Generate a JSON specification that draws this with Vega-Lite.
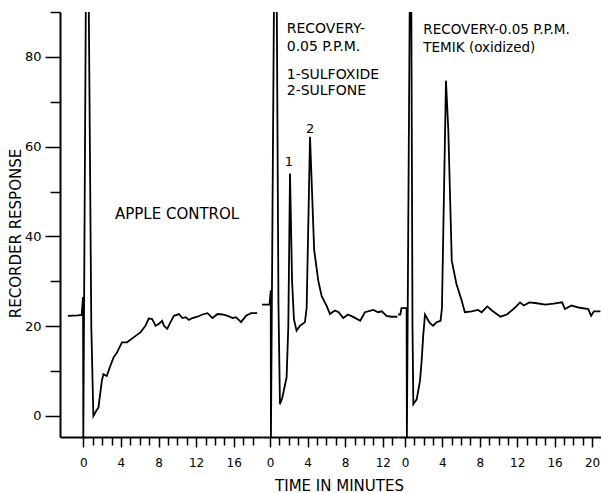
{
  "$schema": "https://vega.github.io/schema/vega-lite/v6.json",
  "padding": {"left": 8, "top": 11, "right": 0, "bottom": 0},
  "background": "white",
  "spacing": 0,
  "bounds": "flush",
  "config": {
    "view": {"stroke": null},
    "axis": {"domainColor": "#000000", "domainWidth": 2, "tickColor": "#000000", "tickWidth": 1.5, "labelColor": "#000000", "labelFont": "DejaVu Sans", "labelFontSize": 12, "titleColor": "#000000", "titleFont": "DejaVu Sans", "titleFontWeight": "normal", "grid": false},
    "line": {"color": "black", "strokeWidth": 1.8},
    "text": {"font": "DejaVu Sans", "color": "black", "fontSize": 13.5, "align": "left", "baseline": "middle"}
  },
  "datasets": {
    "control": [
      {"t": -1.64, "r": 22.3}, {"t": -0.6, "r": 22.4}, {"t": -0.17, "r": 22.5}, {"t": -0.03, "r": 26.5},
      {"t": 0.0, "r": -4.7}, {"t": 0.29, "r": 100}, {"t": 0.55, "r": 100}, {"t": 0.85, "r": 20}, {"t": 1.07, "r": 0},
      {"t": 1.4, "r": 1.2}, {"t": 1.61, "r": 1.9}, {"t": 1.97, "r": 7.8}, {"t": 2.14, "r": 9.3}, {"t": 2.5, "r": 8.9},
      {"t": 2.85, "r": 11}, {"t": 3.21, "r": 13}, {"t": 3.58, "r": 14.1}, {"t": 4.11, "r": 16.4}, {"t": 4.65, "r": 16.4},
      {"t": 5.35, "r": 17.5}, {"t": 6.07, "r": 18.6}, {"t": 6.61, "r": 20.1}, {"t": 6.96, "r": 21.7}, {"t": 7.32, "r": 21.6},
      {"t": 7.68, "r": 20.1}, {"t": 8.03, "r": 20.5}, {"t": 8.39, "r": 21.2}, {"t": 8.57, "r": 20.1}, {"t": 8.93, "r": 19.4},
      {"t": 9.28, "r": 20.9}, {"t": 9.64, "r": 22.3}, {"t": 10.17, "r": 22.7}, {"t": 10.54, "r": 21.8}, {"t": 10.89, "r": 22},
      {"t": 11.24, "r": 21.4}, {"t": 11.61, "r": 21.8}, {"t": 12.14, "r": 22.1}, {"t": 12.68, "r": 22.6}, {"t": 13.21, "r": 22.9},
      {"t": 13.75, "r": 21.8}, {"t": 14.28, "r": 22.7}, {"t": 14.82, "r": 22.6}, {"t": 15.35, "r": 22.3}, {"t": 15.89, "r": 21.8},
      {"t": 16.24, "r": 22}, {"t": 16.78, "r": 20.9}, {"t": 17.31, "r": 22.3}, {"t": 17.85, "r": 22.9}, {"t": 18.49, "r": 22.9}
    ],
    "recovery": [
      {"t": -0.85, "r": 24.8}, {"t": -0.05, "r": 24.8}, {"t": 0.08, "r": 28}, {"t": 0.1, "r": -4.7},
      {"t": 0.45, "r": 100}, {"t": 0.7, "r": 100}, {"t": 0.9, "r": 25}, {"t": 1.06, "r": 2.6}, {"t": 1.3, "r": 4},
      {"t": 1.77, "r": 8.6}, {"t": 1.95, "r": 20}, {"t": 2.13, "r": 54}, {"t": 2.35, "r": 30}, {"t": 2.55, "r": 21.5},
      {"t": 2.83, "r": 19}, {"t": 3.2, "r": 20.1}, {"t": 3.72, "r": 20.9}, {"t": 3.9, "r": 24}, {"t": 4.26, "r": 62.2},
      {"t": 4.7, "r": 37}, {"t": 5.14, "r": 30.1}, {"t": 5.5, "r": 26.7}, {"t": 6.03, "r": 24.5}, {"t": 6.38, "r": 22.7},
      {"t": 6.9, "r": 23.5}, {"t": 7.3, "r": 23.1}, {"t": 7.8, "r": 21.8}, {"t": 8.3, "r": 22.6}, {"t": 8.9, "r": 22},
      {"t": 9.6, "r": 21.2}, {"t": 10.1, "r": 23.1}, {"t": 11.0, "r": 23.6}, {"t": 11.5, "r": 23.1}, {"t": 11.9, "r": 23.3},
      {"t": 12.4, "r": 22.3}, {"t": 12.9, "r": 22.1}, {"t": 13.55, "r": 22.1}
    ],
    "temik": [
      {"t": -0.74, "r": 22.6}, {"t": -0.5, "r": 22.6}, {"t": -0.38, "r": 24.0}, {"t": 0.0, "r": 24.0}, {"t": 0.17, "r": 24.0},
      {"t": 0.2, "r": -4.7}, {"t": 0.53, "r": 100}, {"t": 0.66, "r": 100}, {"t": 0.8, "r": 20}, {"t": 0.89, "r": 2.6},
      {"t": 1.25, "r": 3.7}, {"t": 1.6, "r": 7.8}, {"t": 1.78, "r": 12.3}, {"t": 1.95, "r": 18}, {"t": 2.14, "r": 22.6},
      {"t": 2.5, "r": 21.2}, {"t": 2.7, "r": 20.6}, {"t": 3.0, "r": 20.1}, {"t": 3.4, "r": 20.9}, {"t": 3.8, "r": 21.2},
      {"t": 3.95, "r": 24}, {"t": 4.38, "r": 74.7}, {"t": 4.63, "r": 63.7}, {"t": 5.0, "r": 34.6}, {"t": 5.5, "r": 29.4},
      {"t": 6.06, "r": 25.7}, {"t": 6.4, "r": 23.1}, {"t": 7.13, "r": 23.3}, {"t": 7.8, "r": 23.6}, {"t": 8.2, "r": 23.1},
      {"t": 8.8, "r": 24.4}, {"t": 9.3, "r": 23.5}, {"t": 10.2, "r": 22.1}, {"t": 10.9, "r": 22.6}, {"t": 11.8, "r": 24.2},
      {"t": 12.3, "r": 25.3}, {"t": 12.7, "r": 24.6}, {"t": 13.3, "r": 25.3}, {"t": 14.1, "r": 25.1}, {"t": 15.0, "r": 24.8},
      {"t": 15.9, "r": 25}, {"t": 16.8, "r": 25.3}, {"t": 17.1, "r": 23.8}, {"t": 17.8, "r": 24.6}, {"t": 18.7, "r": 24.1},
      {"t": 19.6, "r": 23.8}, {"t": 19.9, "r": 22.3}, {"t": 20.2, "r": 23.3}, {"t": 20.9, "r": 23.3}
    ],
    "notes1": [
      {"t": 3.37, "r": 45.1, "label": "APPLE CONTROL"}
    ],
    "notes2": [
      {"t": 1.78, "r": 86.3, "label": "RECOVERY-"},
      {"t": 1.78, "r": 82.2, "label": "0.05 P.P.M."},
      {"t": 1.78, "r": 76.0, "label": "1-SULFOXIDE"},
      {"t": 1.78, "r": 72.3, "label": "2-SULFONE"}
    ],
    "peaks2": [
      {"t": 2.02, "r": 56.6, "label": "1"},
      {"t": 4.26, "r": 64.0, "label": "2"}
    ],
    "notes3": [
      {"t": 1.96, "r": 85.9, "label": "RECOVERY-0.05 P.P.M."},
      {"t": 1.96, "r": 82.0, "label": "TEMIK (oxidized)"}
    ]
  },
  "hconcat": [
    {
      "width": 202,
      "height": 425,
      "encoding": {
        "x": {"field": "t", "type": "quantitative",
          "scale": {"domain": [-2.48, 19.01], "nice": false, "zero": false},
          "axis": {"title": null, "values": [0,1,2,3,4,5,6,7,8,9,10,11,12,13,14,15,16,17,18],
            "labelExpr": "datum.value % 4 === 0 ? datum.label : ''",
            "tickSize": {"condition": {"test": "datum.value % 4 === 0", "value": 10}, "value": 8},
            "labelPadding": 10}},
        "y": {"field": "r", "type": "quantitative",
          "scale": {"domain": [-4.7, 90], "nice": false, "zero": false},
          "axis": {"title": "RECORDER RESPONSE", "values": [0,10,20,30,40,50,60,70,80,90],
            "labelExpr": "datum.value % 20 === 0 && datum.value < 90 ? datum.label : ''",
            "tickSize": {"condition": {"test": "datum.value % 20 === 0 && datum.value < 90", "value": 15}, "value": 10},
            "labelPadding": 4, "labelFontSize": 13, "titleFontSize": 15, "titlePadding": 1, "titleY": 221}}
      },
      "layer": [
        {"data": {"name": "control"}, "mark": {"type": "line", "clip": true}},
        {"data": {"name": "notes1"}, "mark": {"type": "text", "fontSize": 15}, "encoding": {"text": {"field": "label"}}}
      ]
    },
    {
      "width": 136,
      "height": 425,
      "encoding": {
        "x": {"field": "t", "type": "quantitative",
          "scale": {"domain": [-0.85, 13.62], "nice": false, "zero": false},
          "axis": {"title": "TIME IN MINUTES", "titleFontSize": 15, "titleX": 77, "titlePadding": 10,
            "values": [0,1,2,3,4,5,6,7,8,9,10,11,12,13],
            "labelExpr": "datum.value % 4 === 0 ? datum.label : ''",
            "tickSize": {"condition": {"test": "datum.value % 4 === 0", "value": 10}, "value": 8},
            "labelPadding": 10}},
        "y": {"field": "r", "type": "quantitative",
          "scale": {"domain": [-4.7, 90], "nice": false, "zero": false}, "axis": null}
      },
      "layer": [
        {"data": {"name": "recovery"}, "mark": {"type": "line", "clip": true}},
        {"data": {"name": "notes2"}, "mark": {"type": "text", "fontSize": 14}, "encoding": {"text": {"field": "label"}}},
        {"data": {"name": "peaks2"}, "mark": {"type": "text", "fontSize": 13, "align": "center"}, "encoding": {"text": {"field": "label"}}}
      ]
    },
    {
      "width": 203,
      "height": 425,
      "encoding": {
        "x": {"field": "t", "type": "quantitative",
          "scale": {"domain": [-0.75, 20.96], "nice": false, "zero": false},
          "axis": {"title": null, "values": [0,1,2,3,4,5,6,7,8,9,10,11,12,13,14,15,16,17,18,19,20],
            "labelExpr": "datum.value % 4 === 0 ? datum.label : ''",
            "tickSize": {"condition": {"test": "datum.value % 4 === 0", "value": 10}, "value": 8},
            "labelPadding": 10}},
        "y": {"field": "r", "type": "quantitative",
          "scale": {"domain": [-4.7, 90], "nice": false, "zero": false}, "axis": null}
      },
      "layer": [
        {"data": {"name": "temik"}, "mark": {"type": "line", "clip": true}},
        {"data": {"name": "notes3"}, "mark": {"type": "text", "fontSize": 13.5}, "encoding": {"text": {"field": "label"}}}
      ]
    }
  ]
}
